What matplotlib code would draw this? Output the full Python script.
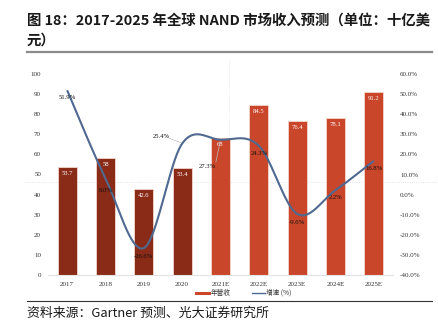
import numpy as np
import matplotlib
matplotlib.use('Agg')
import matplotlib.pyplot as plt
from matplotlib.lines import Line2D

plt.rcParams['font.family'] = ['Noto Sans CJK SC', 'DejaVu Sans']

years = ['2017', '2018', '2019', '2020', '2021E', '2022E', '2023E', '2024E', '2025E']
revenue = [53.7, 58, 42.6, 53.4, 68, 84.5, 76.4, 78.1, 91.2]
growth = [51.9, 8.0, -26.6, 25.4, 27.3, 24.3, -9.6, 2.2, 16.8]
bar_colors = ['#8a2b17'] * 4 + ['#c9462a'] * 5
line_color = '#4f6990'

def smooth(xs, ys, n=40):
    # Catmull-Rom style bezier, same as a spreadsheet "smoothed line"
    pts = np.column_stack([xs, ys]).astype(float)
    out = []
    for i in range(len(pts) - 1):
        p0 = pts[max(i - 1, 0)]; p1 = pts[i]; p2 = pts[i + 1]; p3 = pts[min(i + 2, len(pts) - 1)]
        c1 = p1 + (p2 - p0) / 6; c2 = p2 - (p3 - p1) / 6
        t = np.linspace(0, 1, n)[:, None]
        seg = (1-t)**3*p1 + 3*(1-t)**2*t*c1 + 3*(1-t)*t**2*c2 + t**3*p2
        out.append(seg if i == 0 else seg[1:])
    s = np.vstack(out)
    return s[:, 0], s[:, 1]

W, H = 439, 330
fig = plt.figure(figsize=(W/100, H/100), dpi=100)
def fx(px): return px / W
def fy(py): return 1 - py / H

# title + rules
fig.text(fx(27), fy(21), '图 18：2017-2025 年全球 NAND 市场收入预测（单位：十亿美', fontsize=10.4,
         fontweight='bold', va='center', ha='left', color='#1a1a1a')
fig.text(fx(27), fy(41), '元）', fontsize=10.4, fontweight='bold', va='center', ha='left', color='#1a1a1a')
fig.add_artist(Line2D([fx(27), fx(432)], [fy(51.5)] * 2, color='#8c8c8c', lw=1.6))
fig.add_artist(Line2D([fx(27), fx(432)], [fy(301)] * 2, color='#333333', lw=0.8))
fig.text(fx(27), fy(313), '资料来源：Gartner 预测、光大证券研究所', fontsize=9.3, va='center', ha='left',
         color='#1a1a1a')

# faint guide lines, behind the plot
fig.add_artist(Line2D([fx(25), fx(438)], [fy(181.5)] * 2, color='#dddddd', lw=0.6, ls=':', zorder=-5))
fig.add_artist(Line2D([fx(229.5)] * 2, [fy(60), fy(300)], color='#e3e3e3', lw=0.6, ls=':', zorder=-5))

ax = fig.add_axes([fx(48), fy(275), fx(393) - fx(48), fy(74) - fy(275)])
ax.patch.set_alpha(0)
x = np.arange(len(years))
ax.bar(x, revenue, width=0.5, color=bar_colors, edgecolor='#f3d5cc', linewidth=0.6, zorder=2)
for xi, v in zip(x, revenue):
    ax.text(xi, v - 3.2, f'{v:g}', ha='center', va='center', fontsize=4.8, color='white', zorder=5,
            family='Liberation Serif')
ax.set_xlim(-0.5, 8.5)
ax.set_ylim(0, 100)
ax.set_yticks(range(0, 101, 10))
ax.set_xticks(x)
ax.set_xticklabels(years)
for s in ['top', 'right', 'left']:
    ax.spines[s].set_visible(False)
ax.spines['bottom'].set_color('#e3e3e3')
ax.spines['bottom'].set_linewidth(0.8)
ax.tick_params(length=0, labelsize=5, colors='#333333', pad=5)
for lab in ax.get_xticklabels() + ax.get_yticklabels():
    lab.set_family('Liberation Serif')

ax2 = ax.twinx()
ax2.set_ylim(-40, 60)
ax2.set_yticks(range(-40, 61, 10))
ax2.set_yticklabels([f'{v:.1f}%' for v in range(-40, 61, 10)])
for s in ax2.spines.values():
    s.set_visible(False)
ax2.tick_params(length=0, labelsize=5, colors='#333333', pad=5)
for lab in ax2.get_yticklabels():
    lab.set_family('Liberation Serif')
sx, sy = smooth(x, growth)
ax2.plot(sx, sy, color=line_color, lw=1.5, zorder=4, solid_capstyle='butt')

# growth labels (offsets in category / percent units)
offs = [(0, -3.4), (0, -6.0), (0, -4.0), (-0.55, 3.7), (-0.35, -13.5), (0, -3.8), (0, -4.2), (0, -3.4),
        (0, -4.0)]
for xi, v, (dx, dy) in zip(x, growth, offs):
    ax2.text(xi + dx, v + dy, f'{v:.1f}%', ha='center', va='center', fontsize=4.8, color='#111111',
             zorder=6, family='Liberation Serif')
ax2.plot([3 - 0.33, 3 - 0.02], [25.4 + 2.6, 25.4 + 0.3], color='#bdbdbd', lw=0.5, zorder=3)
ax2.plot([4 - 0.12, 4 - 0.01], [27.3 - 11.0, 27.3 - 1.0], color='#bdbdbd', lw=0.5, zorder=3)

# legend
fig.add_artist(Line2D([fx(196), fx(209)], [fy(293)] * 2, color='#c9462a', lw=2.2))
fig.text(fx(211), fy(293), '年营收', fontsize=4.8, va='center', ha='left', color='#333333')
fig.add_artist(Line2D([fx(252), fx(265)], [fy(293)] * 2, color=line_color, lw=1.0))
fig.text(fx(266), fy(293), '增速 (%)', fontsize=4.8, va='center', ha='left', color='#333333')

fig.savefig('out.png', dpi=100)
